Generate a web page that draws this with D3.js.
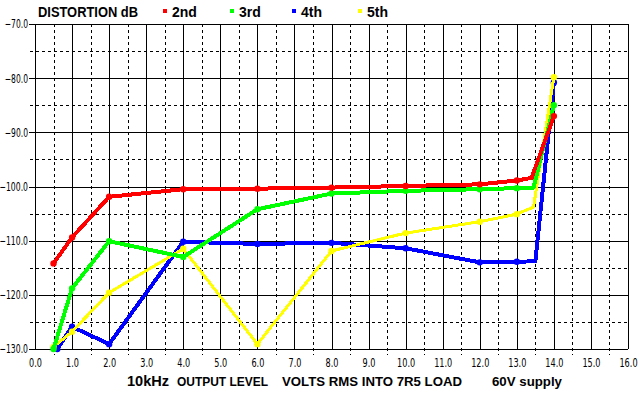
<!DOCTYPE html>
<html>
<head>
<meta charset="utf-8">
<script src="https://cdn.jsdelivr.net/npm/d3@7/dist/d3.min.js"></script>
<style>
  body { margin: 0; background: #fff; }
  svg { display: block; }
  .tick text { font-family: "Liberation Sans Narrow", "DejaVu Sans Condensed", "Liberation Sans", sans-serif; font-size: 12px; fill: #000; }
  .lbl { font-family: "Liberation Sans", Arial, sans-serif; font-weight: bold; fill: #000; }
</style>
</head>
<body>
<svg id="chart" width="642" height="394"></svg>
<script>
// measured points, output volts vs distortion dB
var volts2 = [0.5, 1, 2, 4, 6, 8, 10, 12, 13, 13.4, 14];
var dist2  = [-114.2, -109.4, -101.9, -100.5, -100.4, -100.2, -99.9, -99.6, -98.9, -98.4, -87.0];
var volts3 = [0.5, 1, 2, 4, 6, 8, 10, 12, 13, 13.45, 14];
var dist3  = [-130, -118.8, -110.1, -113.0, -104.2, -101.3, -100.8, -100.5, -100.3, -100.2, -85.0];
var volts4 = [0.6, 1, 2, 4, 6, 8, 10, 12, 13, 13.5, 14];
var dist4  = [-130, -125.9, -129.1, -110.2, -110.6, -110.4, -111.4, -114.0, -113.9, -113.8, -80.8];
var volts5 = [0.5, 1, 2, 4, 6, 8, 10, 12, 13, 13.45, 14];
var dist5  = [-129.6, -126.8, -119.6, -111.5, -129.1, -111.9, -108.6, -106.5, -105.1, -103.8, -79.8];
// points that carry a dot marker
var markerVolts = [0.5, 0.6, 1, 2, 4, 6, 8, 10, 12, 13, 14];

var seriesNames = ["2nd", "3rd", "4th", "5th"];
var xTicks = d3.range(0, 17, 1);
var xHalf = d3.range(0.5, 16, 1);
var yTicks = [-70, -80, -90, -100, -110, -120, -130];
var yHalf = [-75, -85, -95, -105, -115, -125];

var svg = d3.select("#chart");
var x = d3.scaleLinear().domain([0, 16]).range([35, 628]);
var y = d3.scaleLinear().domain([-130, -70]).range([349, 24]);

var series = [
    {name: seriesNames[0], color: "#ff0000", w: 4, v: volts2, d: dist2},
    {name: seriesNames[1], color: "#00ff00", w: 4, v: volts3, d: dist3},
    {name: seriesNames[2], color: "#0000ff", w: 4, v: volts4, d: dist4},
    {name: seriesNames[3], color: "#ffff00", w: 3, v: volts5, d: dist5}
];

// squeeze tick labels to the narrow look of the original
function narrowWidth(s) {
    var w = 0;
    for (var c of s) w += (c == ".") ? 2.5 : (c == "-") ? 3.5 : 5.2;
    return w;
}

var grid = svg.append("g");
// dashed half-step grid, poking out past the axes a bit
grid.selectAll("line.hv").data(xHalf).enter().append("line")
    .attr("x1", d => Math.round(x(d)) + 0.5).attr("x2", d => Math.round(x(d)) + 0.5)
    .attr("y1", y(-70)).attr("y2", y(-130) + 6)
    .attr("stroke", "#000").attr("stroke-dasharray", "3,3");
grid.selectAll("line.hh").data(yHalf).enter().append("line")
    .attr("y1", d => Math.round(y(d)) + 0.5).attr("y2", d => Math.round(y(d)) + 0.5)
    .attr("x1", x(0) - 5).attr("x2", x(16))
    .attr("stroke", "#000").attr("stroke-dasharray", "3,3");
// solid major grid
grid.selectAll("line.mv").data(xTicks).enter().append("line")
    .attr("x1", d => Math.round(x(d)) + 0.5).attr("x2", d => Math.round(x(d)) + 0.5)
    .attr("y1", y(-70)).attr("y2", y(-130))
    .attr("stroke", "#000");
grid.selectAll("line.mh").data(yTicks).enter().append("line")
    .attr("y1", d => Math.round(y(d)) + 0.5).attr("y2", d => Math.round(y(d)) + 0.5)
    .attr("x1", x(0) - 6).attr("x2", x(16))
    .attr("stroke", "#000");

// axes - only used for the labels
var fmt = d3.format(".1f");
var xAxis = svg.append("g").attr("transform", "translate(0," + (y(-130) + 6) + ")")
    .call(d3.axisBottom(x).tickValues(xTicks).tickFormat(fmt).tickSize(0).tickPadding(5));
var yAxis = svg.append("g").attr("transform", "translate(" + (x(0) - 6) + ",0)")
    .call(d3.axisLeft(y).tickValues(yTicks).tickFormat(fmt).tickSize(0).tickPadding(1));
xAxis.select(".domain").remove();
yAxis.select(".domain").remove();
xAxis.selectAll("text").attr("dy", "0.6em");
svg.selectAll(".tick text")
    .attr("textLength", d => narrowWidth(fmt(d)))
    .attr("lengthAdjust", "spacingAndGlyphs");

var line = d3.line().x(p => x(p[0])).y(p => y(p[1]));
var plot = svg.append("g");
// drawn back to front: 4th, 5th, 3rd, 2nd
[2, 3, 1, 0].forEach(function (i) {
    var s = series[i];
    var pts = s.v.map((v, k) => [v, s.d[k]]);
    plot.append("path").datum(pts)
        .attr("d", line)
        .attr("fill", "none")
        .attr("stroke", s.color)
        .attr("stroke-width", s.w)
        .attr("stroke-linejoin", "round")
        .attr("shape-rendering", "crispEdges");
    plot.selectAll(null).data(pts.filter(p => markerVolts.indexOf(p[0]) >= 0)).enter()
        .append("circle")
        .attr("cx", p => x(p[0])).attr("cy", p => y(p[1]))
        .attr("r", 3.2)
        .attr("fill", s.color);
});

// title and legend
svg.append("text").attr("class", "lbl").attr("x", 38).attr("y", 17)
    .attr("font-size", 14).attr("textLength", 100).attr("lengthAdjust", "spacingAndGlyphs")
    .text("DISTORTION dB");
var legX = [163, 230, 292, 358];
var leg = svg.append("g");
series.forEach(function (s, i) {
    leg.append("rect").attr("x", legX[i]).attr("y", 9).attr("width", 4).attr("height", 4)
        .attr("fill", s.color);
    leg.append("text").attr("class", "lbl").attr("x", legX[i] + 9).attr("y", 17)
        .attr("font-size", 14).text(s.name);
});

// bottom captions
svg.append("text").attr("class", "lbl").attr("x", 127).attr("y", 386)
    .attr("font-size", 15).attr("textLength", 42).attr("lengthAdjust", "spacingAndGlyphs")
    .text("10kHz");
svg.append("text").attr("class", "lbl").attr("x", 177).attr("y", 386)
    .attr("font-size", 13).attr("textLength", 91).attr("lengthAdjust", "spacingAndGlyphs")
    .text("OUTPUT LEVEL");
svg.append("text").attr("class", "lbl").attr("x", 282).attr("y", 386)
    .attr("font-size", 13).attr("textLength", 180).attr("lengthAdjust", "spacingAndGlyphs")
    .text("VOLTS RMS INTO 7R5 LOAD");
svg.append("text").attr("class", "lbl").attr("x", 492).attr("y", 386)
    .attr("font-size", 13).attr("textLength", 70).attr("lengthAdjust", "spacingAndGlyphs")
    .text("60V supply");
</script>
</body>
</html>
